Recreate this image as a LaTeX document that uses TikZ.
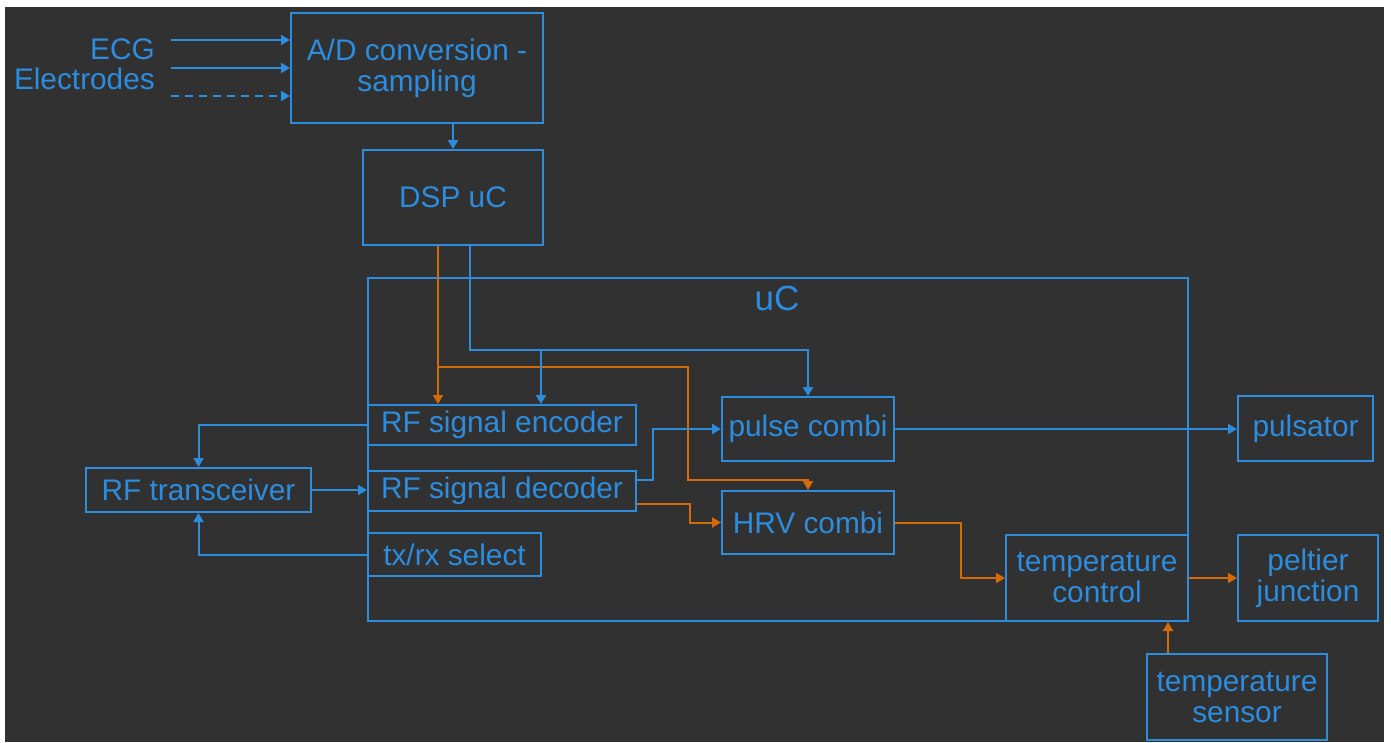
\documentclass[tikz,border=0pt]{standalone}
\usepackage{fontspec}
\setmainfont{Liberation Sans}
\usetikzlibrary{arrows.meta,calc}
\definecolor{bg}{RGB}{49,49,49}
\definecolor{blu}{RGB}{44,140,222}
\definecolor{hot}{RGB}{212,106,8}
\tikzset{
  box/.style={draw=blu, line width=2pt, text=blu, inner sep=0pt, align=center,
              font=\fontsize{29.8}{31}\selectfont},
  wire/.style={draw=blu, line width=2pt, -{Triangle[length=9pt,width=10pt]}},
  hotwire/.style={draw=hot, line width=2pt, -{Triangle[length=9pt,width=10pt]}},
}
\begin{document}
\begin{tikzpicture}[x=1pt,y=-1pt]
\useasboundingbox (0,0) rectangle (1391,742);
\fill[white] (0,0) rectangle (1391,742);
\fill[bg] (5,7) rectangle (1384,742);

% outer microcontroller frame
\node[box, minimum width=820, minimum height=343] (uc) at (778,449.5) {};
\node[text=blu, inner sep=0pt, font=\fontsize{35}{36}\selectfont] (uclabel) at (777,298) {uC};

% blocks
\node[box, minimum width=252, minimum height=110] (ad) at (417,68) {A/D conversion -\\sampling};
\node[box, minimum width=180, minimum height=95] (dsp) at (453,197.5) {DSP uC};
\node[box, minimum width=268, minimum height=40] (enc) at (502,425) {RF signal encoder};
\node[box, minimum width=268, minimum height=40] (dec) at (502,491) {RF signal decoder};
\node[box, minimum width=173, minimum height=43] (txrx) at (454.5,554.5) {tx/rx select};
\node[box, minimum width=225, minimum height=44] (rft) at (198.5,490) {RF transceiver};
\node[box, minimum width=172, minimum height=64] (pulse) at (808,429) {pulse combi};
\node[box, minimum width=172, minimum height=63] (hrv) at (808,522.5) {HRV combi};
\node[box, minimum width=135, minimum height=65] (pulsator) at (1305.5,428.5) {pulsator};
\node[box, minimum width=182, minimum height=86] (tc) at (1097,578) {temperature\\control};
\node[box, minimum width=140, minimum height=86] (pelt) at (1308,578) {peltier\\junction};
\node[box, minimum width=180, minimum height=86] (ts) at (1237,697) {temperature\\sensor};

% electrode inputs
\node[text=blu, inner sep=0pt, anchor=east, align=right,
      font=\fontsize{29.8}{30}\selectfont] (ecg) at (155,64) {ECG\\Electrodes};
\coordinate (in1) at (171,40);
\coordinate (in2) at (171,68);
\coordinate (in3) at (171,96);
\draw[wire] (in1) -- (in1 -| ad.west);
\draw[wire] (in2) -- (in2 -| ad.west);
\draw[wire, dash pattern=on 8pt off 6pt] (in3) -- (in3 -| ad.west);

\draw[wire] (dsp.north |- ad.south) -- (dsp.north);

% DSP outputs
\coordinate (xo) at (438,0);
\coordinate (xb) at (470,0);
\coordinate (jo) at (438,367);
\coordinate (jb) at (541,350);
\draw[hotwire] (xo |- dsp.south) -- (xo |- enc.north);
\draw[hotwire] (jo) -- (688,367) -- (688,480) -- (808,480) -- (hrv.north);
\draw[wire] (xb |- dsp.south) -- (470,350) -- (808,350) -- (pulse.north);
\draw[wire] (jb) -- (jb |- enc.north);

% radio link
\draw[wire] (enc.west) -| (rft.north);
\draw[wire] (txrx.west) -| (rft.south);
\draw[wire] (rft.east) -- (rft.east -| dec.west);

% decoder outputs
\draw[wire] ([yshift=11pt]dec.east) -- ++(16,0) |- (pulse.west);
\draw[hotwire] ([yshift=-13pt]dec.east) -- ++(53,0) |- (hrv.west);

% actuators and temperature loop
\draw[wire] (pulse.east) -- (pulse.east -| pulsator.west);
\draw[hotwire] (hrv.east) -- ++(66,0) |- (tc.west);
\draw[hotwire] (tc.east) -- (pelt.west);
\coordinate (xs) at (1168,0);
\draw[hotwire] (xs |- ts.north) -- (xs |- tc.south);
\end{tikzpicture}
\end{document}
